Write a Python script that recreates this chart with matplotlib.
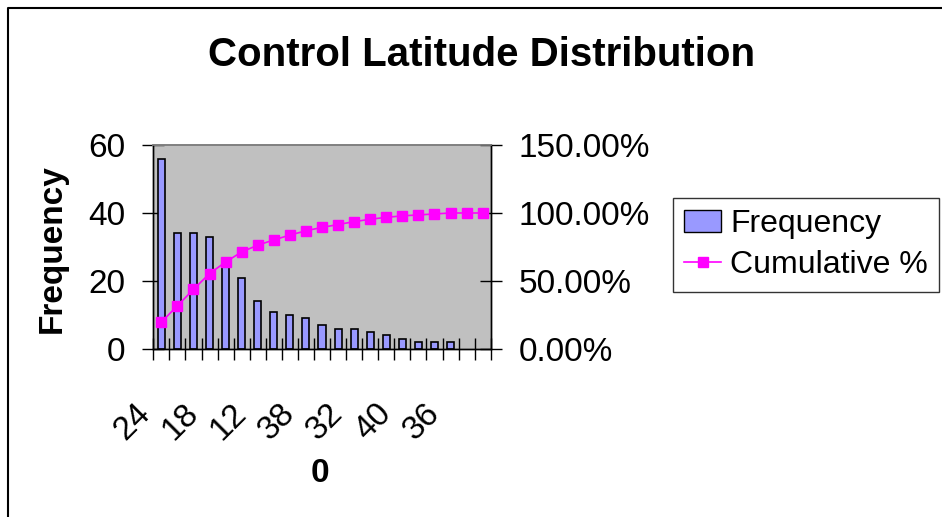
import matplotlib
matplotlib.use("Agg")
import matplotlib.pyplot as plt
from matplotlib.lines import Line2D
from matplotlib.patches import Patch
import matplotlib.transforms as mtransforms
import numpy as np

plt.rcParams['font.family'] = ['Liberation Sans', 'DejaVu Sans']

# data
frequency = [56, 34, 34, 33, 24, 21, 14, 11, 10, 9, 7, 6, 6, 5, 4, 3, 2, 2, 2, 0, 0]
cumulative_pct = [19.79, 31.80, 43.82, 55.48, 63.96, 71.38, 76.33, 80.21, 83.75, 86.93,
                  89.40, 91.52, 93.64, 95.41, 96.82, 97.88, 98.59, 99.29, 100.0, 100.0, 100.0]
shown_labels = ["24", "18", "12", "38", "32", "40", "36"]
label_every = 3

W, H = 942, 517
fig = plt.figure(figsize=(W / 100, H / 100), dpi=100)

# plot area in pixels
px_l, px_r, px_t, px_b = 153.3, 490.7, 145, 349
ax = fig.add_axes([px_l / W, 1 - px_b / H, (px_r - px_l) / W, (px_b - px_t) / H])
ax.set_facecolor('#C0C0C0')

x = np.arange(len(frequency))
bars = ax.bar(x, frequency, width=0.44, color='#9999FF', edgecolor='black', linewidth=1.2, zorder=2)
for b, v in zip(bars, frequency):
    if v == 0:
        b.set_visible(False)
ax.set_xlim(-0.5, len(frequency) - 0.5)
ax.set_ylim(0, 60)
ax.set_yticks([0, 20, 40, 60])

ax2 = ax.twinx()
ax2.plot(x, cumulative_pct, color='#FF00FF', marker='s', markersize=6.5, linewidth=1.2, zorder=3)
ax2.set_ylim(0, 150)
ax2.set_yticks([0, 50, 100, 150])
ax2.set_yticklabels(['%.2f%%' % v for v in [0, 50, 100, 150]])

for a in (ax, ax2):
    a.spines['top'].set_color('#808080')
    a.spines['top'].set_linewidth(1.2)
    a.spines['left'].set_linewidth(1.0)
    a.spines['right'].set_linewidth(1.0)
    a.spines['bottom'].set_linewidth(1.0)

ax.tick_params(axis='y', direction='inout', length=16.5, width=1, labelsize=24, pad=12)
ax2.tick_params(axis='y', direction='inout', length=16.5, width=1, labelsize=24, pad=12)

# category boundary ticks on the x axis
ax.set_xticks(np.arange(len(frequency) + 1) - 0.5, minor=True)
ax.tick_params(axis='x', which='minor', direction='inout', length=16.5, width=1)
ax.tick_params(axis='x', which='major', length=0, labelsize=24, pad=35)
ax.set_xticks(x[::label_every][:len(shown_labels)])
ax.set_xticklabels(shown_labels, rotation=45, ha='right', va='top')
offset = mtransforms.ScaledTranslation(-5 / 100, 0, fig.dpi_scale_trans)
for lab in ax.get_xticklabels():
    lab.set_transform(lab.get_transform() + offset)

fig.text(482 / W, 1 - 55 / H, 'Control Latitude Distribution', ha='center', va='center',
         fontsize=29, fontweight='bold')
fig.text(52 / W, 1 - 249 / H, 'Frequency', ha='center', va='center', rotation=90,
         fontsize=24, fontweight='bold')
fig.text(320 / W, 1 - 473 / H, '0', ha='center', va='center', fontsize=24, fontweight='bold')

handles = [Patch(facecolor='#9999FF', edgecolor='black', linewidth=1.0),
           Line2D([], [], color='#FF00FF', marker='s', markersize=6.5, linewidth=1.2)]
leg = fig.legend(handles, ['Frequency', 'Cumulative %'], loc='upper left',
                 bbox_to_anchor=(673 / W, 1 - 198 / H), borderaxespad=0, fontsize=23,
                 frameon=True, fancybox=False, edgecolor='black', handlelength=1.15,
                 handleheight=0.7, handletextpad=0.3, borderpad=0.35, labelspacing=0.35)
leg.get_frame().set_linewidth(1.0)

# outer chart border
fig.add_artist(Line2D([8 / W, 8 / W, 1], [0, 1 - 8 / H, 1 - 8 / H], transform=fig.transFigure,
                      color='black', linewidth=1.5))

fig.savefig('out.png', dpi=100)
